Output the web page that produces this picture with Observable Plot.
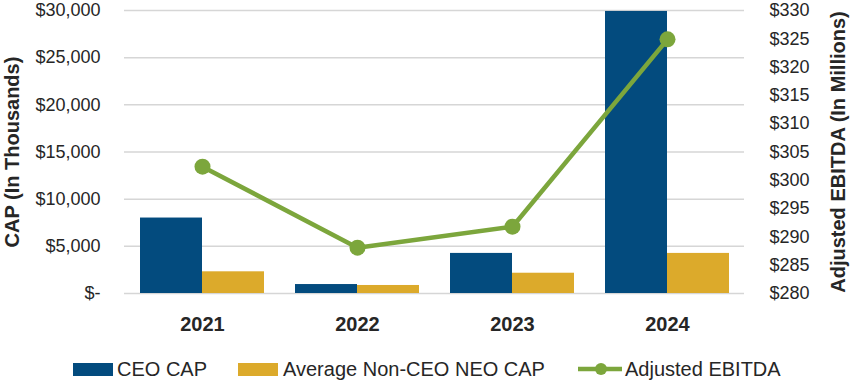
<!DOCTYPE html>
<html>
<head>
<meta charset="utf-8">
<script src="https://cdn.jsdelivr.net/npm/d3@7"></script>
<script src="https://cdn.jsdelivr.net/npm/@observablehq/plot@0.6"></script>
<style>
  html, body { margin: 0; padding: 0; background: #fff; }
  body { width: 851px; height: 383px; overflow: hidden; font-family: "Liberation Sans", Arial, sans-serif; }
  #chart svg { display: block; }
  #legend { position: relative; height: 38px; font-size: 20px; color: #262626; }
  .item { position: absolute; top: 10px; display: flex; align-items: center; height: 28px; white-space: nowrap; }
  .sw { width: 40px; height: 13px; display: inline-block; }
</style>
</head>
<body>
<div id="chart"></div>
<div id="legend"></div>
<script>
const years = ["2021", "2022", "2023", "2024"];
const ceoCap = [8000, 950, 4250, 29900];          // $ thousands
const neoCap = [2300, 850, 2150, 4250];           // $ thousands
const ebitda = [302.4, 288.1, 291.8, 324.9];      // $ millions
const capTicks = [0, 5000, 10000, 15000, 20000, 25000, 30000];
const ebitdaTicks = [280, 285, 290, 295, 300, 305, 310, 315, 320, 325, 330];
const seriesNames = ["CEO CAP", "Average Non-CEO NEO CAP", "Adjusted EBITDA"];
const colors = ["#034b7e", "#dcaa2b", "#7ca63c"];

const E0 = 280, E1 = 330, C1 = 30000;
const toCap = v => (v - E0) / (E1 - E0) * C1;
const fromCap = c => E0 + c / C1 * (E1 - E0);

const ceoData = years.map((y, i) => ({year: y, v: ceoCap[i]}));
const neoData = years.map((y, i) => ({year: y, v: neoCap[i]}));
const lineData = years.map((y, i) => ({year: y, v: toCap(ebitda[i])}));

const fmtCap = d => d === 0 ? "$-" : "$" + d3.format(",")(d);

const chart = Plot.plot({
  width: 851,
  height: 345,
  marginLeft: 124,
  marginRight: 107,
  marginTop: 10,
  marginBottom: 52,
  style: {fontFamily: "Liberation Sans, Arial, sans-serif", color: "#262626", background: "#fff"},
  x: {domain: years, paddingInner: 0.2, paddingOuter: 0.1},
  y: {domain: [0, 30000]},
  marks: [
    Plot.gridY(capTicks, {stroke: "#d6d6d6", strokeOpacity: 1, strokeWidth: 1.5}),
    Plot.barY(ceoData, {x: "year", y: "v", fill: colors[0], insetRight: 62}),
    Plot.barY(neoData, {x: "year", y: "v", fill: colors[1], insetLeft: 62}),
    Plot.line(lineData, {x: "year", y: "v", stroke: colors[2], strokeWidth: 4.5}),
    Plot.dot(lineData, {x: "year", y: "v", r: 8, fill: colors[2]}),
    Plot.axisY({ticks: capTicks, tickFormat: fmtCap, tickSize: 0, tickPadding: 24, fontSize: 18, label: null}),
    Plot.axisY({anchor: "right", ticks: ebitdaTicks.map(toCap), tickFormat: d => "$" + Math.round(fromCap(d)), tickSize: 0, tickPadding: 25, fontSize: 18, label: null}),
    Plot.axisX({tickSize: 0, tickPadding: 23, fontSize: 20, fontWeight: "bold", label: null}),
    Plot.text(["CAP (In Thousands)"], {frameAnchor: "left", textAnchor: "middle", lineAnchor: "middle", text: d => d, rotate: -90, dx: -112, fontSize: 20, fontWeight: "bold", fill: "#262626"}),
    Plot.text(["Adjusted EBITDA (In Millions)"], {frameAnchor: "right", textAnchor: "middle", lineAnchor: "middle", text: d => d, rotate: -90, dx: 94, fontSize: 20, fontWeight: "bold", fill: "#262626"})
  ]
});
document.getElementById("chart").appendChild(chart);

// legend
const legend = document.getElementById("legend");
const items = [
  {left: 73, html: `<span class="sw" style="background:${colors[0]}"></span><span style="margin-left:4px">${seriesNames[0]}</span>`},
  {left: 238, html: `<span class="sw" style="background:${colors[1]}"></span><span style="margin-left:5px">${seriesNames[1]}</span>`},
  {left: 578, html: `<svg width="44" height="16" style="display:inline-block"><line x1="0" x2="44" y1="8" y2="8" stroke="${colors[2]}" stroke-width="4.5"/><circle cx="23" cy="8" r="6" fill="${colors[2]}"/></svg><span style="margin-left:3px">${seriesNames[2]}</span>`}
];
for (const it of items) {
  const d = document.createElement("div");
  d.className = "item";
  d.style.left = it.left + "px";
  d.innerHTML = it.html;
  legend.appendChild(d);
}
</script>
</body>
</html>
